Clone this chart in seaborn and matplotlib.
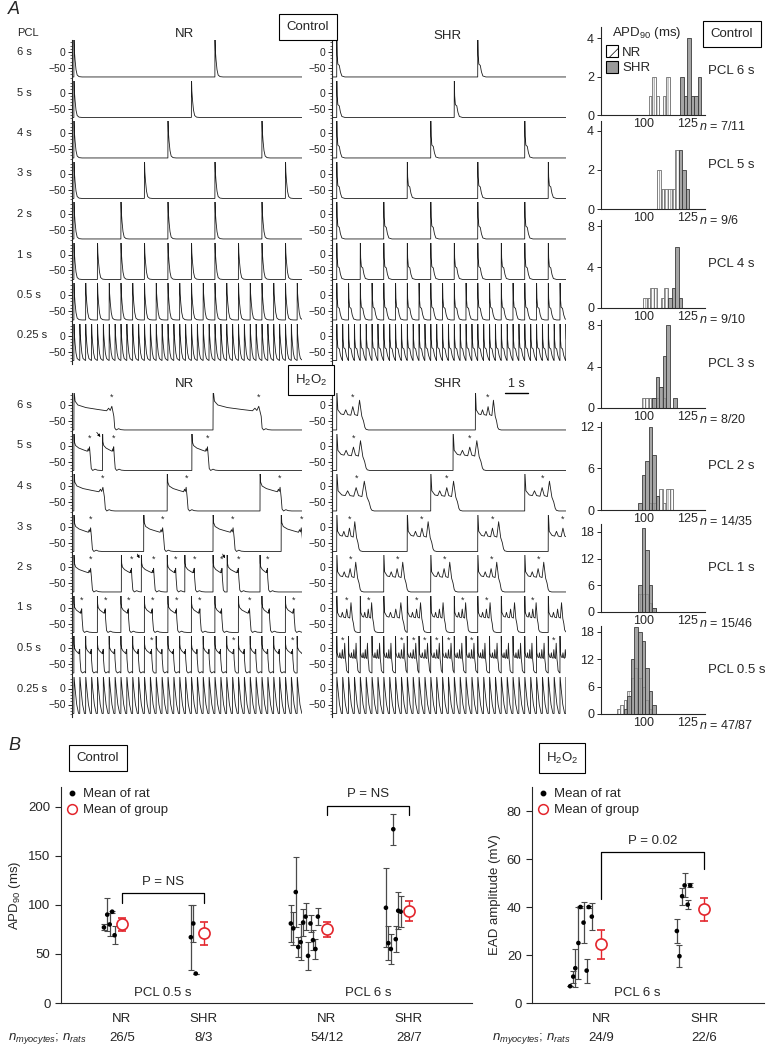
import numpy as np
import pandas as pd
import matplotlib
matplotlib.use("Agg")
import matplotlib.pyplot as plt
import seaborn as sns
from matplotlib.patches import Patch
from matplotlib.lines import Line2D
from matplotlib.ticker import MultipleLocator

sns.set_style("ticks")
plt.rcParams["font.family"] = ["Liberation Sans", "DejaVu Sans"]
plt.rcParams["mathtext.fontset"] = "custom"
plt.rcParams["mathtext.rm"] = "Liberation Sans"
plt.rcParams["mathtext.it"] = "Liberation Sans:italic"
plt.rcParams["axes.linewidth"] = 0.8
plt.rcParams["hatch.linewidth"] = 0.5

# ---------------- data: panel A traces ----------------
PCL_LABELS = ["6 s", "5 s", "4 s", "3 s", "2 s", "1 s", "0.5 s", "0.25 s"]
PCL_S = [6, 5, 4, 3, 2, 1, 0.5, 0.25]
FIRST_BEAT_NR = 0.08
FIRST_BEAT_SHR = 0.2

# control action potential shapes (s, mV)
AP_NR_T = [0, 0.004, 0.02, 0.05, 0.09, 0.14, 0.22, 0.35]
AP_NR_V = [-78, 48, 5, -25, -55, -72, -77, -78]
AP_SHR_T = [0, 0.004, 0.02, 0.05, 0.11, 0.16, 0.22, 0.35]
AP_SHR_V = [-78, 48, -10, -38, -42, -62, -75, -78]
FAST_T = [0, 0.004, 0.05, 0.12, 0.2]
FAST_V = [-78, 40, 0, -50, -78]

# H2O2 shapes, time given as fraction of plateau duration
EAD_NR_F = [0, 0.004, 0.03, 0.1, 0.3, 0.6, 0.82, 0.87, 0.91, 0.95, 1.0]
EAD_NR_V = [-78, 48, 12, 0, -8, -14, -18, -10, -17, -4, -35]
EAD_NR_TAIL_T = [0.04, 0.1, 0.2, 0.3, 0.45]
EAD_NR_TAIL_V = [-72, -78, -74, -77, -78]
EAD_NR_STAR = 0.95
EAD_SHR_F = [0, 0.004, 0.04, 0.15, 0.25, 0.32, 0.39, 0.5, 0.57, 0.64, 0.74, 0.81, 0.89, 0.95, 1.0]
EAD_SHR_V = [-78, 48, -15, -28, -30, -15, -30, -32, -5, -30, -33, 15, -35, -50, -70]
EAD_SHR_TAIL_T = [0.05, 0.15, 0.4]
EAD_SHR_TAIL_V = [-76, -78, -78]
EAD_SHR_STAR = 0.57

# H2O2 beats: (onset s, plateau s, starred), rows 6 s .. 2 s
H2_NR_BEATS = [
    [(0.08, 1.7, 1), (6.0, 2.05, 1)],
    [(0.08, 0.7, 1), (1.3, 0.5, 1), (5.1, 0.7, 1)],
    [(0.08, 1.3, 1), (4.05, 0.85, 1), (8.0, 0.9, 1)],
    [(0.08, 0.75, 1), (3.05, 0.85, 1), (6.0, 0.9, 1), (8.9, 0.9, 1)],
    [(0.08, 0.75, 1), (2.1, 0.45, 1), (2.95, 0.55, 1), (4.05, 0.38, 1),
     (4.8, 0.42, 1), (6.0, 0.4, 1), (6.6, 0.5, 1), (8.0, 0.33, 1)],
]
H2_SHR_BEATS = [
    [(0.2, 1.2, 1), (6.1, 0.95, 1)],
    [(0.2, 1.25, 1), (5.15, 1.25, 1)],
    [(0.2, 1.45, 1), (4.2, 1.2, 1), (8.2, 1.3, 1)],
    [(0.2, 0.95, 1), (3.2, 1.1, 1), (6.2, 1.1, 1), (9.2, 1.1, 1)],
    [(0.2, 1.0, 1), (2.2, 1.0, 1), (4.2, 1.0, 1), (6.2, 1.0, 1), (8.2, 1.0, 1)],
]
# paced rows: plateau per beat and starred beats
H2_NR_1S_DUR = [0.35, 0.35, 0.33, 0.35, 0.38, 0.38, 0.3, 0.5, 0.33, 0.38]
H2_NR_1S_STAR = [1, 1, 1, 1, 1, 1, 0, 1, 0, 1]
H2_NR_05S_DUR = [0.26, 0.25, 0.26, 0.25, 0.26, 0.25, 0.32, 0.26, 0.25, 0.26,
                 0.25, 0.26, 0.25, 0.32, 0.26, 0.25, 0.26, 0.25, 0.32, 0.26]
H2_NR_05S_STAR = [0, 0, 0, 0, 0, 0, 1, 0, 0, 0, 0, 0, 0, 1, 0, 0, 0, 0, 1, 0]
H2_SHR_1S_DUR = [0.75, 0.6, 0.9, 0.7, 0.65, 0.6, 0.65, 0.7, 0.6, 0.7]
H2_SHR_1S_STAR = [1, 1, 0, 1, 0, 1, 1, 0, 1, 0]
H2_SHR_05S_DUR = [0.42, 0.4, 0.38, 0.4, 0.38, 0.45, 0.45, 0.45, 0.45, 0.45,
                  0.4, 0.42, 0.38, 0.4, 0.38, 0.4, 0.38, 0.4, 0.42, 0.4]
H2_SHR_05S_STAR = [1, 0, 0, 0, 0, 1, 1, 1, 1, 1, 0, 1, 0, 0, 0, 0, 0, 0, 1, 0]

# ---------------- data: panel A histograms (APD90, 2 ms bins) ----------------
HIST_PCL = ["PCL 6 s", "PCL 5 s", "PCL 4 s", "PCL 3 s", "PCL 2 s", "PCL 1 s", "PCL 0.5 s"]
HIST_N = ["7/11", "9/6", "9/10", "8/20", "14/35", "15/46", "47/87"]
HIST_YMAX = [4.6, 4.5, 8.6, 8.5, 12.7, 19.8, 19.3]
HIST_YTICKS = [[0, 2, 4], [0, 2, 4], [0, 4, 8], [0, 4, 8], [0, 6, 12], [0, 6, 12, 18], [0, 6, 12, 18]]
NR_START = [103, 108, 100, 99, 103, 97, 85]
NR_COUNTS = [[1, 2, 1, 0, 1, 2], [2, 1, 1, 1, 1, 3], [1, 1, 2, 2, 0, 1, 2],
             [1, 1, 1, 1, 1, 2, 1], [1, 1, 2, 3, 1, 3, 3], [4, 4, 4, 2, 1],
             [1, 2, 3, 5, 8, 10, 8, 6, 3, 1]]
SHR_START = [121, 120, 114, 105, 97, 97, 89]
SHR_COUNTS = [[2, 1, 4, 1, 1, 2], [3, 2, 1], [1, 2, 6, 1], [1, 3, 2, 5, 8, 0, 1],
              [1, 5, 7, 12, 8, 2], [6, 19, 14, 6, 1], [1, 4, 12, 19, 18, 16, 10, 5, 2]]
BIN_W = 2

# ---------------- data: panel B ----------------
B1_POS = [1.0, 2.0, 3.5, 4.5]
B1_LABELS = ["NR", "SHR", "NR", "SHR"]
B1_N = ["26/5", "8/3", "54/12", "28/7"]
B1_GROUP_MEAN = [80, 71, 75, 94]
B1_GROUP_ERR = [7, 12, 8, 10]
B1_RAT_X = [0.78, 0.82, 0.85, 0.88, 0.91,
            1.84, 1.87, 1.90,
            3.06, 3.09, 3.12, 3.15, 3.18, 3.21, 3.24, 3.27, 3.30, 3.33, 3.36, 3.39,
            4.22, 4.25, 4.28, 4.31, 4.34, 4.37, 4.40]
B1_RAT_Y = [77, 90, 80, 93, 69,
            67, 81, 30,
            81, 76, 113, 57, 62, 82, 88, 48, 81, 64, 55, 88,
            97, 61, 55, 177, 65, 94, 93]
B1_RAT_ERR = [3, 17, 12, 1, 9,
              33, 19, 0,
              19, 17, 36, 10, 18, 14, 14, 14, 9, 10, 10, 9,
              40, 17, 15, 16, 13, 19, 16]

B2_POS = [1.0, 2.0]
B2_LABELS = ["NR", "SHR"]
B2_N = ["24/9", "22/6"]
B2_GROUP_MEAN = [24.4, 39]
B2_GROUP_ERR = [6, 4.7]
B2_RAT_X = [0.70, 0.73, 0.75, 0.78, 0.80, 0.83, 0.86, 0.88, 0.91,
            1.735, 1.76, 1.786, 1.81, 1.84, 1.864]
B2_RAT_Y = [7, 11, 14.5, 25, 40, 33.5, 13.5, 40, 36,
            30, 19.5, 44.5, 49, 41, 49]
B2_RAT_ERR = [0, 2.5, 8, 15, 0.5, 8.5, 5, 0.5, 5.5,
              5, 4.5, 3.5, 5, 1.8, 0.8]

# ---------------- layout ----------------
W, H = 770, 1048
fig = plt.figure(figsize=(W / 100, H / 100), dpi=100)


def rect(x0, y0, x1, y1):
    return [x0 / W, 1 - y1 / H, (x1 - x0) / W, (y1 - y0) / H]


def ftext(x, y, s, **kw):
    fig.text(x / W, 1 - y / H, s, **kw)


BOX = dict(boxstyle="square,pad=0.55", fc="white", ec="black", lw=0.8)
NR_X = (72, 302)
SHR_X = (332, 566)
PX_PER_S = 23.5
CTRL_ZERO = 52
H2_ZERO = 405
ROW_STEP = 40.5
TRACE_C = "#1c1c1c"


def build_trace(beats, tmax):
    t, v = [0.0], [-78.0]
    for onset, bt, bv in beats:
        while len(t) > 1 and t[-1] >= onset:
            t.pop()
            v.pop()
        for a, b in zip(bt, bv):
            t.append(onset + a)
            v.append(b)
    t.append(max(tmax, t[-1]))
    v.append(-78.0)
    return np.array(t), np.array(v)


def ead_shape(D, frac, volt, tail_t, tail_v):
    return [f * D for f in frac] + [D + x for x in tail_t], list(volt) + list(tail_v)


def trace_axes(xr, zero):
    ax = fig.add_axes(rect(xr[0], zero - 12, xr[1], zero + 28))
    ax.set_xlim(0, (xr[1] - xr[0]) / PX_PER_S)
    ax.set_ylim(-87.5, 37.5)
    for s in ["top", "right", "bottom"]:
        ax.spines[s].set_visible(False)
    ax.set_xticks([])
    ax.set_yticks([0, -50])
    ax.yaxis.set_minor_locator(MultipleLocator(10))
    ax.tick_params(axis="y", which="major", length=3, width=0.7, labelsize=7.5, pad=1.5)
    ax.tick_params(axis="y", which="minor", length=1.5, width=0.5)
    ax.spines["left"].set_linewidth(0.8)
    return ax


def draw_trace(ax, t, v):
    sns.lineplot(x=t, y=v, ax=ax, color=TRACE_C, lw=0.6, estimator=None,
                 sort=False, errorbar=None)
    ax.set_xlabel("")
    ax.set_ylabel("")


def stars(ax, pts):
    for x in pts:
        ax.text(x, 24, "*", ha="center", va="center", fontsize=6.5, clip_on=False)


# ---- control traces ----
for i, pcl in enumerate(PCL_S):
    zero = CTRL_ZERO + i * ROW_STEP
    for xr, first, bt, bv in [(NR_X, FIRST_BEAT_NR, AP_NR_T, AP_NR_V),
                              (SHR_X, FIRST_BEAT_SHR, AP_SHR_T, AP_SHR_V)]:
        ax = trace_axes(xr, zero)
        tmax = (xr[1] - xr[0]) / PX_PER_S
        beats = [(o, bt, bv) for o in np.arange(first, tmax, pcl)]
        t, v = build_trace(beats, tmax)
        draw_trace(ax, t, v)
    ftext(17, zero, PCL_LABELS[i], fontsize=8, va="center", ha="left")

# ---- H2O2 traces ----
for i, pcl in enumerate(PCL_S):
    zero = H2_ZERO + i * ROW_STEP
    for col in ["NR", "SHR"]:
        xr = NR_X if col == "NR" else SHR_X
        first = FIRST_BEAT_NR if col == "NR" else FIRST_BEAT_SHR
        tmax = (xr[1] - xr[0]) / PX_PER_S
        ax = trace_axes(xr, zero)
        if col == "NR":
            shape = (EAD_NR_F, EAD_NR_V, EAD_NR_TAIL_T, EAD_NR_TAIL_V)
            star_f = EAD_NR_STAR
            rows, d1, s1, d05, s05 = H2_NR_BEATS, H2_NR_1S_DUR, H2_NR_1S_STAR, H2_NR_05S_DUR, H2_NR_05S_STAR
        else:
            shape = (EAD_SHR_F, EAD_SHR_V, EAD_SHR_TAIL_T, EAD_SHR_TAIL_V)
            star_f = EAD_SHR_STAR
            rows, d1, s1, d05, s05 = H2_SHR_BEATS, H2_SHR_1S_DUR, H2_SHR_1S_STAR, H2_SHR_05S_DUR, H2_SHR_05S_STAR
        if i < 5:
            spec = rows[i]
        elif i == 5:
            spec = [(first + k * pcl, d, s) for k, (d, s) in enumerate(zip(d1, s1))]
        elif i == 6:
            spec = [(first + k * pcl, d, s) for k, (d, s) in enumerate(zip(d05, s05))]
        else:
            spec = None
        if spec is None:
            beats = [(o, FAST_T, FAST_V) for o in np.arange(first, tmax, pcl)]
            star_pts = []
        else:
            beats, star_pts = [], []
            for onset, D, s in spec:
                bt, bv = ead_shape(D, *shape)
                beats.append((onset, bt, bv))
                if s and onset + star_f * D < tmax:
                    star_pts.append(onset + star_f * D)
        t, v = build_trace(beats, tmax)
        draw_trace(ax, t, v)
        stars(ax, star_pts)
        if col == "NR" and i == 1:
            ax.annotate("", xy=(1.28, 20), xytext=(0.98, 48),
                        arrowprops=dict(arrowstyle="-|>", lw=0.5, color="k",
                                        mutation_scale=4), annotation_clip=False)
        if col == "NR" and i == 4:
            for x0, x1 in [(2.72, 2.93), (6.35, 6.57)]:
                ax.annotate("", xy=(x1, 20), xytext=(x0, 48),
                            arrowprops=dict(arrowstyle="-|>", lw=0.5, color="k",
                                            mutation_scale=4), annotation_clip=False)
        if col == "SHR" and i == 0:
            ax.plot([7.35, 8.35], [37.5, 37.5], color="k", lw=1.0, clip_on=False)
            ax.text(7.85, 46, "1 s", ha="center", va="bottom", fontsize=9)
    ftext(17, zero, PCL_LABELS[i], fontsize=8, va="center", ha="left")

# titles panel A
ftext(8, 10, "A", fontsize=13, style="italic", va="center")
ftext(17, 33, "PCL", fontsize=8, va="center")
ftext(185, 34, "NR", fontsize=9.5, ha="center", va="center")
ftext(447, 36, "SHR", fontsize=9.5, ha="center", va="center")
ftext(308, 27, "Control", fontsize=9.5, ha="center", va="center", bbox=BOX)
ftext(185, 384, "NR", fontsize=9.5, ha="center", va="center")
ftext(447, 384, "SHR", fontsize=9.5, ha="center", va="center")
ftext(311, 380, "H$_2$O$_2$", fontsize=9.5, ha="center", va="center", bbox=BOX)

# ---- histograms ----
HIST_BOTTOM = [115, 209, 308, 408, 510, 612, 714]
for i in range(7):
    ax = fig.add_axes(rect(601, HIST_BOTTOM[i] - 88, 705, HIST_BOTTOM[i]))
    ax.patch.set_visible(False)
    nr_edges = [NR_START[i] + BIN_W * k for k in range(len(NR_COUNTS[i]) + 1)]
    shr_edges = [SHR_START[i] + BIN_W * k for k in range(len(SHR_COUNTS[i]) + 1)]
    nr_df = pd.DataFrame({"apd": [e + BIN_W / 2 for e in nr_edges[:-1]], "n": NR_COUNTS[i]})
    shr_df = pd.DataFrame({"apd": [e + BIN_W / 2 for e in shr_edges[:-1]], "n": SHR_COUNTS[i]})
    n0 = len(ax.patches)
    sns.histplot(data=nr_df, x="apd", weights="n", bins=nr_edges,
                 ax=ax, color="white", edgecolor="#707070", linewidth=0.6, alpha=1)
    for p in ax.patches[n0:]:
        p.set_hatch("||||||")
    sns.histplot(data=shr_df, x="apd", weights="n", bins=shr_edges,
                 ax=ax, color="#8f8f8f", edgecolor="#3c3c3c", linewidth=0.6, alpha=0.8)
    ax.set_xlim(76, 135)
    ax.set_ylim(0, HIST_YMAX[i])
    ax.set_yticks(HIST_YTICKS[i])
    ax.set_xticks([100, 125])
    ax.set_xlabel("")
    ax.set_ylabel("")
    sns.despine(ax=ax)
    ax.tick_params(axis="y", length=3, width=0.7, labelsize=9, pad=2)
    ax.tick_params(axis="x", length=0, labelsize=9, pad=2)
    ax.text(1.03, 0.5, HIST_PCL[i], transform=ax.transAxes, fontsize=9.5, va="center")
    ax.text(0.94, -0.13, "$n$ = " + HIST_N[i], transform=ax.transAxes, fontsize=9,
            va="center", ha="left", zorder=10)
    if i == 0:
        ax.text(0.11, 0.93, "APD$_{90}$ (ms)", transform=ax.transAxes, fontsize=9.5,
                va="center")
        ax.legend(handles=[Patch(facecolor="white", edgecolor="black", hatch="//", lw=0.8),
                           Patch(facecolor="#9a9a9a", edgecolor="black", lw=0.8)],
                  labels=["NR", "SHR"], loc="upper left", bbox_to_anchor=(0.05, 0.79),
                  frameon=False, fontsize=9.5, handlelength=0.9, handleheight=1.0,
                  handletextpad=0.3, labelspacing=0.15, borderaxespad=0, borderpad=0)
ftext(732, 34, "Control", fontsize=9.5, ha="center", va="center", bbox=BOX)

# ---------------- panel B ----------------
RED = "#e3262d"


def dot_panel(ax, pos, gmean, gerr, rx, ry, rerr):
    ax.errorbar(rx, ry, yerr=rerr, fmt="none", ecolor="#4a4a4a", elinewidth=0.9,
                capsize=2, capthick=0.8)
    sns.scatterplot(x=rx, y=ry, ax=ax, color="black", s=11, edgecolor="none", zorder=3)
    ax.errorbar(pos, gmean, yerr=gerr, fmt="o", mfc="white", mec=RED, ecolor=RED,
                ms=8, mew=1.2, elinewidth=1.0, capsize=3, capthick=1.0, zorder=4)
    sns.despine(ax=ax)
    ax.tick_params(axis="y", length=4, width=0.8, labelsize=9.5)
    ax.tick_params(axis="x", length=0, labelsize=9.5, pad=7)
    ax.legend(handles=[Line2D([], [], marker="o", color="black", ls="", ms=3.2),
                       Line2D([], [], marker="o", mfc="white", mec=RED, ls="", ms=7, mew=1.1)],
              labels=["Mean of rat", "Mean of group"], loc="upper left",
              bbox_to_anchor=(0.0, 1.02), frameon=False, fontsize=9.5,
              handlelength=0.8, handletextpad=0.5, labelspacing=0.3, borderaxespad=0)


def bracket(ax, x1, x2, ytop, yl1, yl2, label, ty):
    ax.plot([x1, x1, x2, x2], [yl1, ytop, ytop, yl2], color="black", lw=0.9)
    ax.text((x1 + x2) / 2, ty, label, ha="center", va="center", fontsize=9.5)


ax1 = fig.add_axes(rect(61, 787, 472, 1003))
dot_panel(ax1, B1_POS, B1_GROUP_MEAN, B1_GROUP_ERR, B1_RAT_X, B1_RAT_Y, B1_RAT_ERR)
ax1.set_xlim(0.256, 5.27)
ax1.set_ylim(0, 220)
ax1.set_yticks([0, 50, 100, 150, 200])
ax1.set_xticks(B1_POS)
ax1.set_xticklabels(B1_LABELS)
ax1.set_ylabel("APD$_{90}$ (ms)", fontsize=9.5, labelpad=4)
bracket(ax1, B1_POS[0], B1_POS[1], 112, 102, 102, "P = NS", 123)
bracket(ax1, B1_POS[2], B1_POS[3], 201, 191, 191, "P = NS", 213)
ax1.text(1.5, 10, "PCL 0.5 s", ha="center", va="center", fontsize=9.5)
ax1.text(4.0, 10, "PCL 6 s", ha="center", va="center", fontsize=9.5)
for x, s in zip(B1_POS, B1_N):
    ax1.text(x, -(1038 - 1003) / 216, s, transform=ax1.get_xaxis_transform(),
             ha="center", va="center", fontsize=9.5)
ftext(8, 1039, "$n_{myocytes}$; $n_{rats}$", fontsize=9.5, va="center")

ax2 = fig.add_axes(rect(532, 787, 764, 1003))
dot_panel(ax2, B2_POS, B2_GROUP_MEAN, B2_GROUP_ERR, B2_RAT_X, B2_RAT_Y, B2_RAT_ERR)
ax2.set_xlim(0.33, 2.58)
ax2.set_ylim(0, 90)
ax2.set_yticks([0, 20, 40, 60, 80])
ax2.set_xticks(B2_POS)
ax2.set_xticklabels(B2_LABELS)
ax2.set_ylabel("EAD amplitude (mV)", fontsize=9.5, labelpad=4)
bracket(ax2, B2_POS[0], B2_POS[1], 63, 43.5, 56, "P = 0.02", 67.5)
ax2.text(1.35, 4, "PCL 6 s", ha="center", va="center", fontsize=9.5)
for x, s in zip(B2_POS, B2_N):
    ax2.text(x, -(1038 - 1003) / 216, s, transform=ax2.get_xaxis_transform(),
             ha="center", va="center", fontsize=9.5)
ftext(492, 1039, "$n_{myocytes}$; $n_{rats}$", fontsize=9.5, va="center")

ftext(8, 745, "B", fontsize=13, style="italic", va="center")
ftext(98, 758, "Control", fontsize=9.5, ha="center", va="center", bbox=BOX)
ftext(562, 758, "H$_2$O$_2$", fontsize=9.5, ha="center", va="center", bbox=BOX)

fig.savefig("out.png", dpi=100)
